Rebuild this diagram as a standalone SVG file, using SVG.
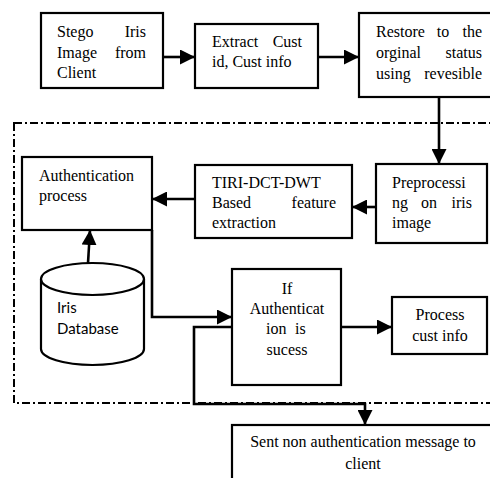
<svg xmlns="http://www.w3.org/2000/svg" width="490" height="478" viewBox="0 0 490 478">
<defs>
<marker id="ah" viewBox="0 0 10 10" markerWidth="15" markerHeight="15" markerUnits="userSpaceOnUse" refX="10" refY="5" orient="auto">
<path d="M0,0 L10,5 L0,10 Z" fill="#000"/>
</marker>
<style>
.box{fill:#fff;stroke:#000;stroke-width:2.2}
.t{font-family:"Liberation Serif","Times New Roman",serif;font-size:16px;fill:#000}
.m{text-anchor:middle}
.e{text-anchor:end}
.c{fill:none;stroke:#000;stroke-width:2.6;marker-end:url(#ah)}
.db{font-family:Lato,"Open Sans",sans-serif;font-size:15px;fill:#000}
</style>
</defs>
<rect width="490" height="478" fill="#fff"/>
<rect x="14" y="123" width="500" height="280" fill="none" stroke="#000" stroke-width="2" stroke-dasharray="8 3 2 3"/>

<g id="stego">
<rect class="box" x="41" y="13" width="122" height="75"/>
<text class="t" x="57" y="37">Stego</text><text class="t e" x="146" y="37">Iris</text>
<text class="t" x="57" y="58">Image</text><text class="t e" x="146" y="58">from</text>
<text class="t" x="57" y="78">Client</text>
</g>
<g id="extract">
<rect class="box" x="195" y="24" width="123" height="64"/>
<text class="t" x="212" y="47">Extract</text><text class="t e" x="302" y="47">Cust</text>
<text class="t" x="212" y="67">id, Cust info</text>
</g>
<g id="restore">
<rect class="box" x="359" y="13" width="150" height="84"/>
<text class="t" x="376" y="37">Restore</text><text class="t m" x="443" y="37">to</text><text class="t e" x="482" y="37">the</text>
<text class="t" x="376" y="58">orginal</text><text class="t e" x="482" y="58">status</text>
<text class="t" x="376" y="79">using</text><text class="t e" x="482" y="79">revesible</text>
</g>
<g id="auth">
<rect class="box" x="22" y="157" width="130" height="73"/>
<text class="t" x="39" y="181">Authentication</text>
<text class="t" x="39" y="201">process</text>
</g>
<g id="tiri">
<rect class="box" x="195" y="165" width="157" height="73"/>
<text class="t" x="212" y="188">TIRI-DCT-DWT</text>
<text class="t" x="212" y="208">Based</text><text class="t e" x="336" y="208">feature</text>
<text class="t" x="212" y="228">extraction</text>
</g>
<g id="preproc">
<rect class="box" x="376" y="164" width="111" height="79"/>
<text class="t" x="392" y="188">Preprocessi</text>
<text class="t" x="392" y="208">ng</text><text class="t m" x="429" y="208">on</text><text class="t e" x="472" y="208">iris</text>
<text class="t" x="392" y="228">image</text>
</g>
<g id="irisdb">
<path d="M41,279 L41,349 A51.5,16 0 0 0 144,349 L144,279" fill="#fff" stroke="#000" stroke-width="2.2"/>
<ellipse cx="92.5" cy="279" rx="51.5" ry="16" fill="#fff" stroke="#000" stroke-width="2.2"/>
<text class="db" x="57" y="313">Iris</text>
<text class="db" x="57" y="334">Database</text>
</g>
<g id="ifauth">
<rect class="box" x="232" y="269" width="109" height="116"/>
<text class="t m" x="287" y="294">If</text>
<text class="t m" x="287" y="314">Authenticat</text>
<text class="t" x="266" y="334">ion</text><text class="t" x="295" y="334">is</text>
<text class="t m" x="287" y="355">sucess</text>
</g>
<g id="process">
<rect class="box" x="392" y="297" width="95" height="57"/>
<text class="t m" x="440" y="320">Process</text>
<text class="t m" x="440" y="341">cust info</text>
</g>
<g id="sent">
<rect class="box" x="232" y="425" width="280" height="70"/>
<text class="t m" x="363" y="447">Sent non authentication message to</text>
<text class="t m" x="363" y="469">client</text>
</g>

<g id="connectors">
<path class="c" d="M163,57 L195,57"/>
<path class="c" d="M318,57 L359,57"/>
<path class="c" d="M439,97 L439,164"/>
<path class="c" d="M376,207 L352,207"/>
<path class="c" d="M195,199 L152,199"/>
<path class="c" d="M88,263 L90,230"/>
<path class="c" d="M152,230 L152,317 L232,317"/>
<path class="c" d="M232,327 L194,327 L194,404 L365,404 L365,425"/>
<path class="c" d="M341,327 L392,327"/>
</g>
</svg>
